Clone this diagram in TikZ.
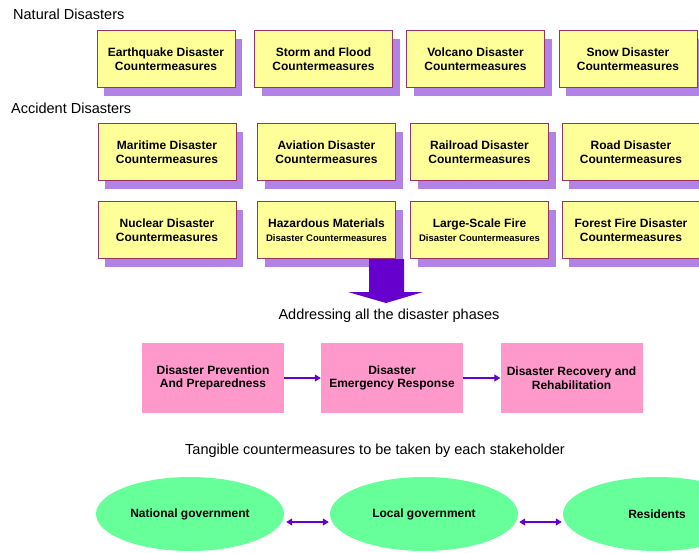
\documentclass[tikz,border=0pt]{standalone}
\usepackage{fontspec}
\setmainfont{Liberation Sans}
\usetikzlibrary{shapes.geometric,shadows,arrows.meta}
\definecolor{boxyellow}{RGB}{255,255,153}
\definecolor{boxedge}{RGB}{153,51,102}
\definecolor{shadepurple}{RGB}{178,130,228}
\definecolor{phasepink}{RGB}{255,153,204}
\definecolor{holdergreen}{RGB}{102,255,153}
\definecolor{arrowpurple}{RGB}{102,0,204}
\newcommand{\boxfont}{\fontsize{12}{13.5}\selectfont\bfseries}
\tikzset{
  cmbox/.style={draw=boxedge, fill=boxyellow, line width=1pt,
    minimum width=138pt, minimum height=57pt, inner sep=0pt, align=center,
    font=\boxfont,
    drop shadow={shadow xshift=7pt, shadow yshift=-8pt, fill=shadepurple, opacity=1}},
  phasebox/.style={fill=phasepink, minimum width=142pt, minimum height=70pt,
    inner sep=0pt, align=center, font=\boxfont},
  holder/.style={ellipse, fill=holdergreen, minimum width=188pt,
    minimum height=74pt, inner sep=0pt, font=\boxfont},
  heading/.style={inner sep=0pt, font=\fontsize{14.5}{17}\selectfont},
  flow/.style={draw=arrowpurple, line width=1.2pt, -{Triangle[length=6pt,width=7pt]}},
  twoway/.style={draw=arrowpurple, line width=1.2pt, {Triangle[length=6pt,width=7pt]}-{Triangle[length=6pt,width=7pt]}}
}

\begin{document}
\begin{tikzpicture}[x=1pt,y=-1pt]
  \useasboundingbox (0,0) rectangle (699,552);
  \clip (0,0) rectangle (699,552);

  \node[heading, anchor=west] (natural) at (13,14) {Natural Disasters};
  \node[heading, anchor=west] (accident) at (11,108) {Accident Disasters};

  \node[cmbox] (quake) at (166,59) {Earthquake Disaster\\Countermeasures};
  \node[cmbox] (storm) at (323.5,59) {Storm and Flood\\Countermeasures};
  \node[cmbox] (volcano) at (475.5,59) {Volcano Disaster\\Countermeasures};
  \node[cmbox] (snow) at (628,59) {Snow Disaster\\Countermeasures};

  \node[cmbox] (maritime) at (167,152) {Maritime Disaster\\Countermeasures};
  \node[cmbox] (aviation) at (326.5,152) {Aviation Disaster\\Countermeasures};
  \node[cmbox] (railroad) at (479.5,152) {Railroad Disaster\\Countermeasures};
  \node[cmbox] (road) at (631,152) {Road Disaster\\Countermeasures};

  \node[cmbox] (nuclear) at (167,230) {Nuclear Disaster\\Countermeasures};
  \node[cmbox] (hazmat) at (326.5,230) {Hazardous Materials\\{\fontsize{9.5}{11}\selectfont Disaster Countermeasures}};
  \node[cmbox] (fire) at (479.5,230) {Large-Scale Fire\\{\fontsize{9.5}{11}\selectfont Disaster Countermeasures}};
  \node[cmbox] (forest) at (631,230) {Forest Fire Disaster\\Countermeasures};

  \fill[arrowpurple] (369,259) -- (404,259) -- (404,292) -- (423,292)
    -- (386,303) -- (348,292) -- (369,292) -- cycle;

  \node[heading] (phases) at (389,316) {Addressing all the disaster phases};

  \node[phasebox] (prevent) at (213,378) {Disaster Prevention\\And Preparedness};
  \node[phasebox] (respond) at (392,378) {Disaster\\Emergency Response};
  \node[phasebox] (recover) at (571.5,378) {Disaster Recovery and\\Rehabilitation};
  \draw[flow] (prevent) -- (respond);
  \draw[flow] (respond) -- (recover);

  \node[heading] (stake) at (375,451) {Tangible countermeasures to be taken by each stakeholder};

  \node[holder] (natgov) at (190,514) {National government};
  \node[holder] (locgov) at (424,514) {Local government};
  \node[holder] (resident) at (657,514) {Residents};
  \draw[twoway] ([xshift=2pt,yshift=-8pt]natgov.east) -- ([xshift=-1pt,yshift=-8pt]locgov.west);
  \draw[twoway] ([xshift=1pt,yshift=-8pt]locgov.east) -- ([xshift=-1pt,yshift=-8pt]resident.west);
\end{tikzpicture}
\end{document}
